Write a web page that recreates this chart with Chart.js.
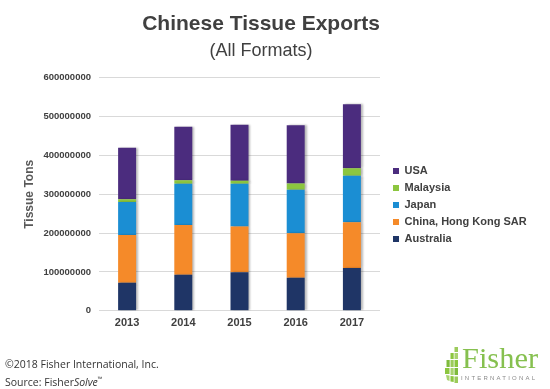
<!DOCTYPE html>
<html>
<head>
<meta charset="utf-8">
<script src="https://cdn.jsdelivr.net/npm/chart.js@4.4.1/dist/chart.umd.min.js"></script>
<style>
  html, body { margin: 0; padding: 0; background: #ffffff; }
  #wrap { position: relative; width: 550px; height: 389px; overflow: hidden; background: #fff; }
  #c { position: absolute; left: 0; top: 0; }
  #footer { position: absolute; left: 5px; top: 357px; font-family: "Open Sans", "DejaVu Sans", sans-serif; font-size: 10.5px; line-height: 15px; color: #333; }
  #footer sup { font-size: 6px; }
  #logo { position: absolute; left: 440px; top: 340px; }
</style>
</head>
<body>
<div id="wrap">
  <canvas id="c" width="550" height="389"></canvas>
  <div id="footer">©2018 Fisher International, Inc.<br>Source: Fisher<i>Solve</i><sup>™</sup></div>
  <svg id="logo" width="108" height="49" viewBox="0 0 108 49">
    <g>
      <rect x="14.5" y="7" width="3.5" height="5" fill="#9ccb5b"/>
      <rect x="10.5" y="13" width="3.2" height="6" fill="#8cc63f"/>
      <rect x="14.5" y="13" width="3.5" height="6" fill="#a9d36e"/>
      <rect x="6.5" y="20" width="3.2" height="7" fill="#7fbb3c"/>
      <rect x="10.5" y="20" width="3.2" height="7" fill="#9ccb5b"/>
      <rect x="14.5" y="20" width="3.5" height="7" fill="#8cc63f"/>
      <rect x="5" y="28" width="4.5" height="6" fill="#8cc63f"/>
      <rect x="10.5" y="28" width="3.2" height="7" fill="#a9d36e"/>
      <rect x="14.5" y="28" width="3.5" height="7" fill="#7fbb3c"/>
      <polygon points="6,35 9.5,35.5 9.5,41 7,40" fill="#a9d36e"/>
      <polygon points="10.5,36 13.7,36.3 13.7,42 10.5,41.5" fill="#8cc63f"/>
      <rect x="14.5" y="36.5" width="3.5" height="6.5" fill="#9ccb5b"/>
    </g>
    <text x="22" y="28" font-family="'Liberation Serif', 'DejaVu Serif', serif" font-size="30" fill="#86c04f" textLength="76" lengthAdjust="spacingAndGlyphs">Fisher</text>
    <text x="21" y="39.5" font-family="'Liberation Sans', Arial, sans-serif" font-size="6" fill="#8a8a8a" textLength="74" lengthAdjust="spacing">INTERNATIONAL</text>
  </svg>
</div>
<script>
const years = ['2013', '2014', '2015', '2016', '2017'];
const australia = [72000000, 93000000, 99000000, 85000000, 110000000];
const chinaHongKong = [123000000, 128000000, 118000000, 115000000, 118000000];
const japan = [85000000, 106000000, 110000000, 112000000, 120000000];
const malaysia = [7000000, 9000000, 8000000, 16000000, 19000000];
const usa = [133000000, 138000000, 144000000, 150000000, 165000000];
const yTicks = [0, 100000000, 200000000, 300000000, 400000000, 500000000, 600000000];

const FONT = "'Liberation Sans', Arial, Helvetica, sans-serif";
const TEXT = '#404040';

const shadowPlugin = {
  id: 'barShadow',
  beforeDatasetsDraw(chart) {
    const ctx = chart.ctx;
    ctx.save();
    ctx.shadowColor = 'rgba(0,0,0,0.28)';
    ctx.shadowOffsetX = 2;
    ctx.shadowOffsetY = 0;
    ctx.shadowBlur = 2;
  },
  afterDatasetsDraw(chart) {
    chart.ctx.restore();
  }
};

// let the legend labels run to the canvas edge instead of being clipped
const legendRoom = {
  id: 'legendRoom',
  afterLayout(chart) {
    const lg = chart.legend;
    if (lg) { lg.right = chart.width; lg.width = lg.right - lg.left; }
  }
};

new Chart(document.getElementById('c'), {
  type: 'bar',
  data: {
    labels: years,
    datasets: [
      { label: 'Australia', data: australia, backgroundColor: '#1f3566' },
      { label: 'China, Hong Kong SAR', data: chinaHongKong, backgroundColor: '#f58a29' },
      { label: 'Japan', data: japan, backgroundColor: '#1b8ed3' },
      { label: 'Malaysia', data: malaysia, backgroundColor: '#8cc63f' },
      { label: 'USA', data: usa, backgroundColor: '#4b2c7e' }
    ]
  },
  options: {
    responsive: false,
    animation: false,
    devicePixelRatio: 1,
    layout: { padding: { left: 9, right: 37, top: 0, bottom: 53 } },
    datasets: { bar: { categoryPercentage: 1, barPercentage: 0.32, borderWidth: 0 } },
    plugins: {
      title: {
        display: true,
        text: 'Chinese Tissue Exports',
        color: TEXT,
        font: { family: FONT, size: 21, weight: 'bold' },
        padding: { top: 12, bottom: 0 }
      },
      subtitle: {
        display: true,
        text: '(All Formats)',
        color: TEXT,
        font: { family: FONT, size: 18, weight: 'normal' },
        padding: { top: 3, bottom: 16 }
      },
      legend: {
        display: true,
        position: 'right',
        fullSize: false,
        reverse: true,
        title: { display: true, text: '', padding: { top: 7, bottom: 0 }, font: { size: 12 } },
        labels: {
          boxWidth: 6,
          boxHeight: 6,
          padding: 6,
          color: TEXT,
          font: { family: FONT, size: 11, weight: 'bold' }
        }
      },
      tooltip: { enabled: false }
    },
    scales: {
      x: {
        stacked: true,
        grid: { display: false, drawTicks: false },
        border: { display: false },
        ticks: { color: TEXT, padding: 6, font: { family: FONT, size: 11, weight: 'bold' } }
      },
      y: {
        stacked: true,
        min: 0,
        max: 600000000,
        afterBuildTicks(scale) { scale.ticks = yTicks.map(v => ({ value: v })); },
        afterFit(scale) { scale.width = 90; },
        grid: { color: '#d9d9d9', lineWidth: 1, drawTicks: false },
        border: { display: false },
        ticks: {
          color: TEXT,
          padding: 8,
          font: { family: FONT, size: 9.5, weight: 'bold' },
          callback: (v) => String(v)
        },
        title: {
          display: true,
          text: 'Tissue Tons',
          color: '#595959',
          font: { family: FONT, size: 12, weight: 'bold' },
          padding: { top: 13, bottom: 4 }
        }
      },
      yGap: {
        position: 'right',
        display: false,
        afterFit(scale) { scale.width = 7; }
      }
    }
  },
  plugins: [shadowPlugin, legendRoom]
});
</script>
</body>
</html>
